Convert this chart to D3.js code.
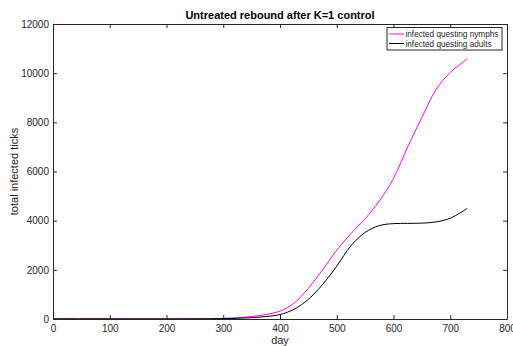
<!DOCTYPE html>
<html>
<head>
<meta charset="utf-8">
<script src="https://cdn.jsdelivr.net/npm/d3@7"></script>
<style>
  html, body { margin: 0; padding: 0; background: #fff; }
  svg { display: block; font-family: "Liberation Sans", Arial, Helvetica, sans-serif; }
</style>
</head>
<body>
<svg id="chart" width="513" height="346"></svg>
<script>
// Simulated tick populations after the K=1 control period
const days = [0, 50, 100, 150, 200, 250, 300, 325, 350, 375, 400, 425, 450, 475, 500, 525, 550, 575, 600, 625, 650, 675, 700, 730];
const nymphs = [10, 8, 6, 5, 5, 8, 25, 50, 100, 180, 320, 650, 1250, 2000, 2800, 3470, 4080, 4800, 5720, 7000, 8200, 9330, 10030, 10580];
const adults = [8, 6, 5, 4, 4, 6, 15, 30, 55, 100, 180, 400, 800, 1400, 2150, 2980, 3520, 3800, 3880, 3890, 3900, 3950, 4100, 4500];
const xTicks = [0, 100, 200, 300, 400, 500, 600, 700, 800];
const yTicks = [0, 2000, 4000, 6000, 8000, 10000, 12000];
const seriesNames = ["infected questing nymphs", "infected questing adults"];
const seriesColors = ["#ff00ff", "#000000"];

const svg = d3.select("#chart");
const margin = { left: 53, right: 6, top: 24, bottom: 27 };
const W = 513, H = 346;
const x = d3.scaleLinear().domain([0, 800]).range([margin.left, W - margin.right]);
const y = d3.scaleLinear().domain([0, 12000]).range([H - margin.bottom, margin.top]);

const axisColor = "#262626";
const tickLen = 4;

// Data lines (drawn first so the frame sits on top)
const line = d3.line().x((d, i) => x(days[i])).y(d => y(d)).curve(d3.curveCatmullRom.alpha(0.5));
[nymphs, adults].forEach((vals, k) => {
  svg.append("path")
    .attr("d", line(vals))
    .attr("fill", "none")
    .attr("stroke", seriesColors[k])
    .attr("stroke-width", 1);
});

// Axes with inward ticks on all four sides
function styleAxis(g) {
  g.selectAll(".domain").attr("stroke", axisColor);
  g.selectAll(".tick line").attr("stroke", axisColor);
  g.selectAll(".tick text").attr("fill", axisColor).attr("font-size", 10);
}
svg.append("g")
  .attr("transform", `translate(0,${y(0)})`)
  .call(d3.axisBottom(x).tickValues(xTicks).tickSizeInner(-tickLen).tickSizeOuter(0).tickPadding(6).tickFormat(d3.format("d")))
  .call(styleAxis);
svg.append("g")
  .attr("transform", `translate(0,${y(12000)})`)
  .call(d3.axisTop(x).tickValues(xTicks).tickSizeInner(-tickLen).tickSizeOuter(0).tickFormat(""))
  .call(styleAxis);
svg.append("g")
  .attr("transform", `translate(${x(0)},0)`)
  .call(d3.axisLeft(y).tickValues(yTicks).tickSizeInner(-tickLen).tickSizeOuter(0).tickPadding(4).tickFormat(d3.format("d")))
  .call(styleAxis);
svg.append("g")
  .attr("transform", `translate(${x(800)},0)`)
  .call(d3.axisRight(y).tickValues(yTicks).tickSizeInner(-tickLen).tickSizeOuter(0).tickFormat(""))
  .call(styleAxis);

// Title and axis labels
svg.append("text")
  .attr("x", (x(0) + x(800)) / 2).attr("y", 19)
  .attr("text-anchor", "middle")
  .attr("font-size", 11).attr("font-weight", "bold").attr("fill", "#000")
  .text("Untreated rebound after K=1 control");
svg.append("text")
  .attr("x", (x(0) + x(800)) / 2).attr("y", 344)
  .attr("text-anchor", "middle")
  .attr("font-size", 11).attr("fill", axisColor)
  .text("day");
svg.append("text")
  .attr("transform", `translate(18,${(y(0) + y(12000)) / 2}) rotate(-90)`)
  .attr("text-anchor", "middle")
  .attr("font-size", 11).attr("fill", axisColor)
  .text("total infected ticks");

// Legend
const lg = svg.append("g").attr("transform", "translate(387,27.5)");
lg.append("rect")
  .attr("width", 115).attr("height", 22.5)
  .attr("fill", "#fff").attr("stroke", axisColor).attr("stroke-width", 1);
seriesNames.forEach((name, k) => {
  const yy = 6.5 + k * 9.5;
  lg.append("line")
    .attr("x1", 2).attr("x2", 17).attr("y1", yy).attr("y2", yy)
    .attr("stroke", seriesColors[k]).attr("stroke-width", 1);
  lg.append("text")
    .attr("x", 18.5).attr("y", yy + 3)
    .attr("font-size", 8.2).attr("fill", axisColor)
    .text(name);
});
</script>
</body>
</html>
